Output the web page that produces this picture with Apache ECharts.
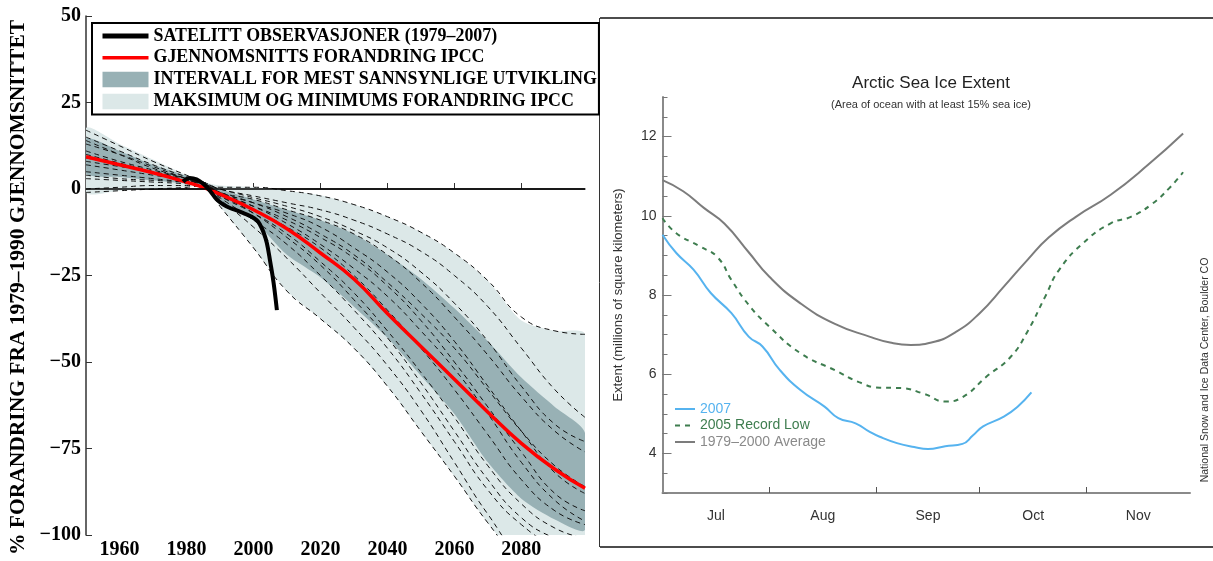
<!DOCTYPE html>
<html>
<head>
<meta charset="utf-8">
<script src="https://cdn.jsdelivr.net/npm/echarts@6/dist/echarts.min.js"></script>
<style>
  html, body { margin: 0; padding: 0; background: #fff; }
  #main { width: 1213px; height: 561px; }
</style>
</head>
<body>
<div id="main"></div>
<script>
// venstre figur: prosent forandring i forhold til 1979-1990
const bandYears = [1950, 1960, 1970, 1980, 1985, 1990, 2000, 2010, 2020, 2030, 2040, 2050, 2060, 2070, 2080, 2090, 2099];
const lightUpper = [17.6, 13, 8.5, 4, 2, 1, 0.5, -0.5, -1.8, -4.5, -8, -12.5, -18.5, -26.5, -38, -41, -42];
const lightLower = [-1, -0.5, 0, 0.5, 1, -5, -17, -29.5, -37.5, -46, -57, -70, -83, -96.5, -108, -115, -118];
const darkUpper = [14.6, 11, 7, 3.8, 2, 0, -3, -6, -9, -13, -19, -26, -34.5, -44, -54.5, -63, -70.5];
const darkLower = [4.5, 3.5, 2.5, 1.5, 1, -3.5, -9, -19, -25.5, -34, -43, -54, -65, -79, -89.5, -95.5, -98.5];
const meanChange = [9.3, 7, 4.7, 2, 0.5, -1.5, -6, -11.5, -18.5, -26, -36, -45.5, -55, -64.5, -73.5, -81, -86.5];

// modellkjøringer (stiplede linjer)
const modelRuns = [
  [17, 12.5, 8, 4, 2, 0.5, 0.5, -0.5, -2, -4.5, -8, -12.5, -18.5, -26.5, -37, -41, -42],
  [15, 11, 7, 3.5, 2, 0, -2, -4, -6, -9, -13, -18, -25, -34, -46, -58, -66],
  [14, 10, 6, 3, 1.5, 0, -2.5, -5, -8, -12, -17, -24, -33, -44, -57, -68, -73],
  [13, 10, 6.5, 3, 1.5, -1, -3, -6, -9, -13, -19, -27, -37, -48, -60, -70, -76],
  [11, 8, 5.5, 3, 1.5, -1, -4, -7, -11, -17, -24, -33, -44, -57, -70, -82, -88],
  [10, 7.5, 5, 2.5, 1.5, -1, -4, -8, -13, -19, -27, -36, -46, -58, -70, -80, -86],
  [9, 7, 5, 2.5, 1.5, -1.5, -5, -9, -14, -20, -28, -38, -50, -63, -76, -88, -93],
  [8, 6.5, 5, 3, 2, -1, -5, -10, -16, -23, -31, -41, -52, -65, -79, -90, -96],
  [7, 5.5, 4, 2.5, 1.5, -2, -6, -11, -17, -25, -35, -46, -58, -71, -84, -93, -97],
  [5, 4, 3, 2, 1.5, -2, -7, -13, -21, -30, -41, -53, -66, -80, -91, -98, -101],
  [4, 3, 2.5, 2, 1.5, -1.5, -7, -14, -22, -32, -43, -56, -70, -84, -95, -101, -104],
  [3, 2.5, 2, 1.5, 1, -2.5, -9, -16, -25, -35, -46, -59, -73, -87, -97, -103, -105],
  [0, 0.5, 1, 1, 1, -3, -11, -20, -30, -40, -51, -64, -79, -94, -106, -110, -112],
  [-1, -0.5, 0, 0.5, 1, -5, -17, -29.5, -37.5, -46, -57, -70, -83, -96.5, -108, -115, -118]
];

// satellittobservasjoner
const obsYears = [1979, 1981, 1983, 1985, 1987, 1989, 1991, 1993, 1995, 1997, 1999, 2001, 2002, 2003, 2004, 2005, 2006, 2007];
const obsValues = [2.1, 3.2, 2.8, 1.5, -0.5, -3, -4.5, -5.5, -6.2, -7, -7.8, -9, -10.4, -12.5, -15.6, -21, -27, -35];
const yearTicks = [1960, 1980, 2000, 2020, 2040, 2060, 2080];

// høyre figur: Arctic Sea Ice Extent (dager fra 1. juli)
const avgDays = [0, 6, 12, 18, 25, 31, 40, 50, 60, 66, 72, 78, 85, 92, 99, 106, 112, 120, 130, 141, 151];
const avgExtent = [10.9, 10.62, 10.2, 9.8, 9.08, 8.46, 7.79, 7.27, 6.95, 6.8, 6.74, 6.8, 7.06, 7.54, 8.21, 8.9, 9.45, 9.98, 10.53, 11.3, 12.08];
const low2005Days = [0, 4, 11, 16, 20, 25, 31, 40, 50, 57, 63, 69, 76, 82, 87, 94, 101, 106, 111, 115, 122, 130, 136, 142, 147, 151];
const low2005Extent = [9.94, 9.56, 9.22, 8.95, 8.38, 7.75, 7.2, 6.53, 6.1, 5.8, 5.66, 5.65, 5.5, 5.31, 5.42, 5.94, 6.44, 7.1, 7.96, 8.63, 9.31, 9.81, 9.98, 10.3, 10.7, 11.1];
const y2007Days = [0, 4, 9, 14, 20, 25, 29, 34, 40, 47, 51, 56, 60, 63, 68, 73, 77, 82, 87, 90, 93, 99, 103, 107];
const y2007Extent = [9.52, 9.06, 8.64, 8.05, 7.54, 6.95, 6.7, 6.11, 5.6, 5.18, 4.89, 4.76, 4.55, 4.42, 4.26, 4.16, 4.11, 4.18, 4.24, 4.45, 4.68, 4.93, 5.18, 5.54];
const monthStarts = [31, 62, 92, 123];
const monthMids = [15.5, 46.5, 77, 107.5, 138];
const monthNames = ['Jul', 'Aug', 'Sep', 'Oct', 'Nov'];
const extentLabels = [4, 6, 8, 10, 12];

const pairs = (xs, ys) => xs.map((x, i) => [x, ys[i]]);
const serif = 'Liberation Serif';
const sans = 'Liberation Sans';
const lightColor = '#dce8e8';
const darkColor = '#98b1b5';

// bånd mellom øvre og nedre kurve, tegnet via aksene
function band(name, upper, lower, color) {
  return {
    name: name, type: 'custom', clip: true, silent: true,
    itemStyle: { color: color },
    data: [[bandYears[0], upper[0]]],
    renderItem: function (params, api) {
      let top = bandYears.map((y, i) => api.coord([y, upper[i]]));
      let bottom = bandYears.map((y, i) => api.coord([y, lower[i]])).reverse();
      return { type: 'polygon', shape: { points: top.concat(bottom), smooth: 0.25 }, style: { fill: color } };
    }
  };
}

let series = [
  band('MAKSIMUM OG MINIMUMS FORANDRING IPCC', lightUpper, lightLower, lightColor),
  band('INTERVALL FOR MEST SANNSYNLIGE UTVIKLING', darkUpper, darkLower, darkColor),
  { type: 'line', data: [], markLine: { silent: true, symbol: 'none', label: { show: false },
    lineStyle: { color: '#000', width: 1.5, type: 'solid' }, data: [{ yAxis: 0 }] } }
];
modelRuns.forEach(run => {
  series.push({ type: 'line', symbol: 'none', smooth: true, silent: true,
    lineStyle: { color: '#111', width: 1, type: [5, 4] }, data: pairs(bandYears, run) });
});
series.push({ name: 'GJENNOMSNITTS FORANDRING IPCC', type: 'line', symbol: 'none', smooth: true,
  itemStyle: { color: '#ff0000' }, lineStyle: { color: '#ff0000', width: 3.5 }, data: pairs(bandYears, meanChange) });
series.push({ name: 'SATELITT OBSERVASJONER (1979–2007)', type: 'line', symbol: 'none', smooth: 0.4,
  itemStyle: { color: '#000' }, lineStyle: { color: '#000', width: 4 }, data: pairs(obsYears, obsValues) });

// høyre figur
series.push({ name: '1979–2000 Average', type: 'line', xAxisIndex: 1, yAxisIndex: 1, symbol: 'none', smooth: true,
  itemStyle: { color: '#7c7c7c' }, lineStyle: { color: '#7c7c7c', width: 2 }, data: pairs(avgDays, avgExtent) });
series.push({ name: '2005 Record Low', type: 'line', xAxisIndex: 1, yAxisIndex: 1, symbol: 'none', smooth: true,
  itemStyle: { color: '#3e7d4f' }, lineStyle: { color: '#3e7d4f', width: 2, type: [5, 5] }, data: pairs(low2005Days, low2005Extent) });
series.push({ name: '2007', type: 'line', xAxisIndex: 1, yAxisIndex: 1, symbol: 'none', smooth: true,
  itemStyle: { color: '#56b3ef' }, lineStyle: { color: '#56b3ef', width: 2 }, data: pairs(y2007Days, y2007Extent) });

const noSymbol = { opacity: 0 };

let option = {
  animation: false,
  backgroundColor: '#fff',
  title: {
    text: 'Arctic Sea Ice Extent',
    subtext: '(Area of ocean with at least 15% sea ice)',
    left: 926, top: 70, textAlign: 'center', itemGap: 7,
    textStyle: { fontFamily: sans, fontSize: 17, fontWeight: 'normal', color: '#222' },
    subtextStyle: { fontFamily: sans, fontSize: 11, color: '#333' }
  },
  legend: [
    {
      orient: 'vertical', left: 92, top: 23, padding: [4, 2, 4, 8], itemGap: 3.8,
      itemWidth: 46, itemHeight: 15.5, backgroundColor: '#fff',
      borderColor: '#000', borderWidth: 2, borderRadius: 0,
      textStyle: { fontFamily: serif, fontWeight: 'bold', fontSize: 17.9, color: '#000' },
      data: [
        { name: 'SATELITT OBSERVASJONER (1979–2007)', itemStyle: noSymbol, lineStyle: { width: 5 } },
        { name: 'GJENNOMSNITTS FORANDRING IPCC', itemStyle: noSymbol, lineStyle: { width: 3.5 } },
        { name: 'INTERVALL FOR MEST SANNSYNLIGE UTVIKLING', icon: 'rect' },
        { name: 'MAKSIMUM OG MINIMUMS FORANDRING IPCC', icon: 'rect' }
      ]
    },
    {
      orient: 'vertical', left: 674, top: 402, padding: 0, itemGap: 2.5,
      itemWidth: 20, itemHeight: 14,
      textStyle: { fontFamily: sans, fontSize: 14 },
      data: [
        { name: '2007', itemStyle: noSymbol, textStyle: { color: '#56b3ef' } },
        { name: '2005 Record Low', itemStyle: noSymbol, textStyle: { color: '#3e7d4f' } },
        { name: '1979–2000 Average', itemStyle: noSymbol, textStyle: { color: '#8a8a8a' } }
      ]
    }
  ],
  grid: [
    { left: 86, top: 16, width: 499, height: 519 },
    { left: 662.5, top: 97, width: 527.5, height: 396 }
  ],
  xAxis: [
    {
      type: 'value', gridIndex: 0, min: 1950, max: 2099,
      axisLine: { lineStyle: { color: '#333', width: 1.5 } },
      axisTick: { inside: true, length: 6, customValues: yearTicks, lineStyle: { color: '#333' } },
      axisLabel: { customValues: yearTicks, margin: 5, fontFamily: serif, fontWeight: 'bold', fontSize: 20, color: '#000',
        formatter: v => String(v) },
      splitLine: { show: false }
    },
    {
      type: 'value', gridIndex: 1, min: 0, max: 153,
      axisLine: { lineStyle: { color: '#8a8a8a', width: 2 } },
      axisTick: { inside: true, length: 6, customValues: monthStarts, lineStyle: { color: '#555' } },
      axisLabel: { customValues: monthMids, margin: 16, fontFamily: sans, fontSize: 14, color: '#333',
        formatter: v => monthNames[monthMids.indexOf(v)] },
      splitLine: { show: false }
    }
  ],
  yAxis: [
    {
      type: 'value', gridIndex: 0, min: -100, max: 50, interval: 25,
      name: '% FORANDRING FRA 1979–1990 GJENNOMSNITTET', nameLocation: 'middle', nameGap: 57, nameRotate: 90,
      nameTextStyle: { fontFamily: serif, fontWeight: 'bold', fontSize: 21.5, color: '#000', padding: [0, 24, 0, 0] },
      axisLine: { show: true, lineStyle: { color: '#333', width: 1.5 } },
      axisTick: { show: true, inside: true, length: 6, lineStyle: { color: '#333' } },
      axisLabel: { margin: 5, fontFamily: serif, fontWeight: 'bold', fontSize: 20, color: '#000',
        formatter: v => String(v).replace('-', '−') },
      splitLine: { show: false }
    },
    {
      type: 'value', gridIndex: 1, min: 3, max: 13, position: 'left',
      name: 'Extent (millions of square kilometers)', nameLocation: 'middle', nameGap: 38, nameRotate: 90,
      nameTextStyle: { fontFamily: sans, fontSize: 13, color: '#333' },
      axisLine: { show: true, lineStyle: { color: '#8a8a8a', width: 2 } },
      axisTick: { show: true, inside: true, length: 9, customValues: extentLabels, lineStyle: { color: '#777' } },
      axisLabel: { customValues: extentLabels, margin: 6, fontFamily: sans, fontSize: 14, color: '#333' },
      splitLine: { show: false }
    },
    {
      type: 'value', gridIndex: 1, min: 3, max: 13, interval: 0.5, position: 'left',
      axisLine: { show: false },
      axisTick: { show: true, inside: true, length: 5, lineStyle: { color: '#777' } },
      axisLabel: { show: false },
      splitLine: { show: false }
    }
  ],
  graphic: [
    { type: 'line', shape: { x1: 600, y1: 18, x2: 1213, y2: 18 }, style: { stroke: '#111', lineWidth: 1.5 } },
    { type: 'line', shape: { x1: 600, y1: 547, x2: 1213, y2: 547 }, style: { stroke: '#111', lineWidth: 1.5 } },
    { type: 'line', shape: { x1: 599.5, y1: 18, x2: 599.5, y2: 547 }, style: { stroke: '#333', lineWidth: 1 } },
    { type: 'text', x: 1205, y: 370, rotation: Math.PI / 2,
      style: { text: 'National Snow and Ice Data Center, Boulder CO', font: '10.5px "Liberation Sans"', fill: '#333',
        textAlign: 'center', textVerticalAlign: 'middle' } }
  ],
  series: series
};

let myChart = echarts.init(document.getElementById('main'));
myChart.setOption(option);
</script>
</body>
</html>
